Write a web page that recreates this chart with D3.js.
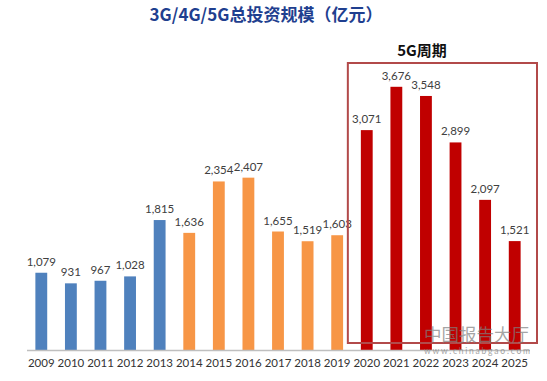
<!DOCTYPE html>
<html>
<head>
<meta charset="utf-8">
<script src="https://cdn.jsdelivr.net/npm/d3@7"></script>
<style>
  html, body { margin: 0; padding: 0; background: #fff; }
  svg { display: block; }
</style>
</head>
<body>
<svg id="chart"></svg>
<script>
const width = 547;
const height = 381;

// data
const years = ['2009','2010','2011','2012','2013','2014','2015','2016','2017','2018','2019','2020','2021','2022','2023','2024','2025'];
const investment = [1079, 931, 967, 1028, 1815, 1636, 2354, 2407, 1655, 1519, 1603, 3071, 3676, 3548, 2899, 2097, 1521];
const generation = ['3G','3G','3G','3G','3G','4G','4G','4G','4G','4G','4G','5G','5G','5G','5G','5G','5G'];
const title = '3G/4G/5G总投资规模（亿元）';
const cycleLabel = '5G周期';

const colorScale = d3.scaleOrdinal()
    .domain(['3G', '4G', '5G'])
    .range(['#4f81bd', '#f79646', '#c00000']);

const baseline = 350;

const xScale = d3.scaleBand()
    .domain(years)
    .range([26.5, 529.5])
    .paddingInner(0.6)
    .paddingOuter(0.3);

const yScale = d3.scaleLinear()
    .domain([0, 4000])
    .range([baseline, baseline - 286.4]);

const svg = d3.select('#chart')
    .attr('width', width)
    .attr('height', height);

svg.append('text')
    .attr('x', 266)
    .attr('y', 21)
    .attr('text-anchor', 'middle')
    .style('font-family', '"Noto Sans CJK SC", sans-serif')
    .style('font-weight', 'bold')
    .style('font-size', '17px')
    .style('fill', '#1f3f8f')
    .text(title);

// bars
svg.selectAll('.bar')
    .data(investment)
    .enter()
    .append('rect')
    .attr('class', 'bar')
    .attr('x', (d, i) => xScale(years[i]))
    .attr('y', d => yScale(d))
    .attr('width', xScale.bandwidth())
    .attr('height', d => yScale(0) - yScale(d))
    .attr('fill', (d, i) => colorScale(generation[i]));

// value labels
svg.selectAll('.value')
    .data(investment)
    .enter()
    .append('text')
    .attr('class', 'value')
    .attr('x', (d, i) => xScale(years[i]) + xScale.bandwidth() / 2)
    .attr('y', d => yScale(d) - 7)
    .attr('text-anchor', 'middle')
    .style('font-family', 'Lato, "Open Sans", sans-serif')
    .style('font-size', '11.5px')
    .style('fill', '#404040')
    .text(d => d3.format(',')(d));

// x axis
const xAxis = svg.append('g')
    .attr('transform', `translate(0, ${baseline})`)
    .call(d3.axisBottom(xScale).tickSize(0).tickPadding(9));
xAxis.select('.domain').attr('stroke', '#bfbfbf').attr('stroke-width', 1.5);
xAxis.selectAll('text')
    .style('font-family', 'Lato, "Open Sans", sans-serif')
    .style('font-size', '11.5px')
    .style('fill', '#333');

// 5G cycle frame
const first5G = generation.indexOf('5G');
svg.append('rect')
    .attr('x', xScale(years[first5G]) - 13)
    .attr('y', 63)
    .attr('width', 537 - (xScale(years[first5G]) - 13))
    .attr('height', 280)
    .attr('fill', 'none')
    .attr('stroke', '#b24a4a')
    .attr('stroke-width', 2);

svg.append('text')
    .attr('x', 422)
    .attr('y', 56)
    .attr('text-anchor', 'middle')
    .style('font-family', '"Noto Sans CJK SC", sans-serif')
    .style('font-weight', 'bold')
    .style('font-size', '15px')
    .style('fill', '#111')
    .text(cycleLabel);

// watermark
svg.append('text')
    .attr('x', 424)
    .attr('y', 341)
    .style('font-family', '"Noto Sans CJK SC", sans-serif')
    .style('font-size', '17.5px')
    .style('fill', '#7f7f7f')
    .style('opacity', 0.7)
    .text('中国报告大厅');
svg.append('text')
    .attr('x', 424)
    .attr('y', 354)
    .attr('textLength', 106)
    .style('font-family', 'Lato, sans-serif')
    .style('font-size', '8.5px')
    .style('fill', '#7f7f7f')
    .style('opacity', 0.7)
    .text('www.chinabgao.com');
</script>
</body>
</html>
